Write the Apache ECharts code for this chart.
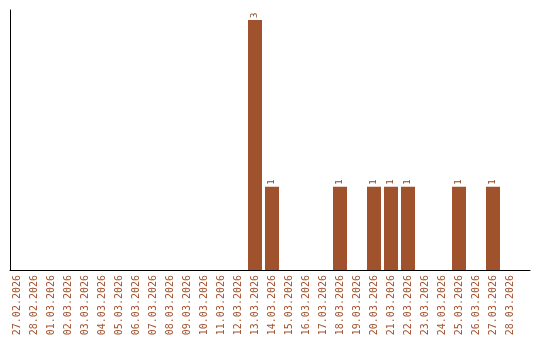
<!DOCTYPE html>
<html><head><meta charset="utf-8">
<script src="https://cdn.jsdelivr.net/npm/echarts@6/dist/echarts.min.js"></script>
<style>html,body{margin:0;padding:0;background:#fff}#c{width:540px;height:340px}</style>
</head><body><div id="c"></div>
<script>
const categories = ["27.02.2026","28.02.2026","01.03.2026","02.03.2026","03.03.2026","04.03.2026","05.03.2026","06.03.2026","07.03.2026","08.03.2026","09.03.2026","10.03.2026","11.03.2026","12.03.2026","13.03.2026","14.03.2026","15.03.2026","16.03.2026","17.03.2026","18.03.2026","19.03.2026","20.03.2026","21.03.2026","22.03.2026","23.03.2026","24.03.2026","25.03.2026","26.03.2026","27.03.2026","28.03.2026"];
const values = [0,0,0,0,0,0,0,0,0,0,0,0,0,0,3,1,0,0,0,1,0,1,1,1,0,0,1,0,1,0];

const color = '#a0522d';
const chart = echarts.init(document.getElementById('c'), null, {renderer:'canvas'});
const idx = categories.map((_, i) => i);
chart.setOption({
  animation: false,
  grid: {left: 10, right: 10, top: 10, bottom: 70, containLabel: false},
  xAxis: {
    type: 'value', min: -0.412, max: 30.176,
    axisLine: {show: true, onZero: false, lineStyle: {color: '#000', width: 1}},
    axisTick: {show: false},
    splitLine: {show: false},
    axisLabel: {
      customValues: idx, rotate: 90, margin: 5,
      color: color, fontFamily: 'DejaVu Sans Mono', fontSize: 10,
      formatter: v => categories[Math.round(v)] || ''
    }
  },
  yAxis: {
    type: 'value', min: 0, max: 3.12,
    axisLine: {show: true, onZero: false, lineStyle: {color: '#000', width: 1}},
    axisTick: {show: false}, axisLabel: {show: false}, splitLine: {show: false}
  },
  series: [{
    type: 'bar', barWidth: 14,
    itemStyle: {color: color},
    data: values.map((v, i) => v > 0 ? [i, v] : null).filter(d => d),
    label: {
      show: true, position: 'top', rotate: 90, distance: 2, align: 'left', verticalAlign: 'middle',
      color: '#8b4a26', fontFamily: 'DejaVu Sans Mono', fontSize: 9,
      formatter: p => String(p.value[1])
    }
  }]
});
</script></body></html>
